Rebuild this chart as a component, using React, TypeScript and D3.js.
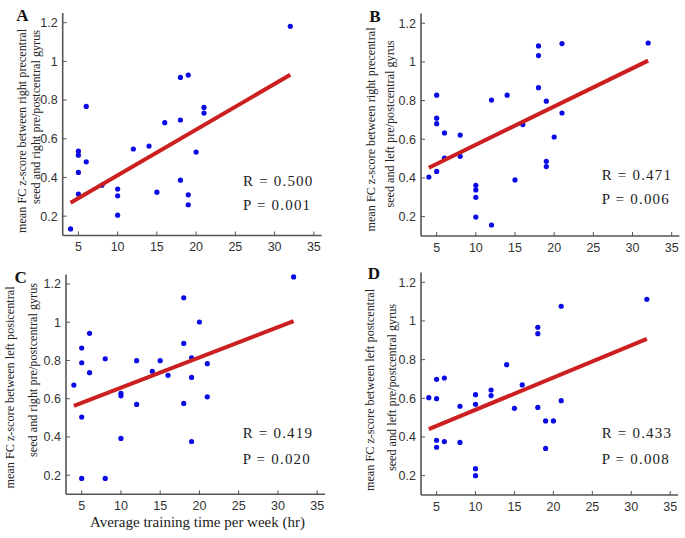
import React from "react";
import * as d3 from "d3";

// ---- data ----
const xTickValues = [5, 10, 15, 20, 25, 30, 35];
const yTickValues = [0.2, 0.4, 0.6, 0.8, 1.0, 1.2];
const yTickLabels = ["0.2", "0.4", "0.6", "0.8", "1", "1.2"];
const fitX = [4, 32];

const aHours = [4, 5, 5, 5, 5, 6, 6, 8, 10, 10, 10, 12, 14, 15, 16, 18, 18, 18, 19, 19, 19, 20, 21, 21, 32];
const aFC = [0.134, 0.536, 0.515, 0.426, 0.314, 0.767, 0.481, 0.36, 0.34, 0.305, 0.205, 0.547, 0.562, 0.324, 0.683, 0.917, 0.697, 0.386, 0.929, 0.31, 0.259, 0.531, 0.762, 0.733, 1.181];
const aFit = [0.269, 0.931];

const bHours = [4, 5, 5, 5, 5, 6, 6, 8, 8, 10, 10, 10, 10, 12, 12, 14, 15, 16, 18, 18, 18, 19, 19, 19, 20, 21, 21, 32];
const bFC = [0.405, 0.828, 0.709, 0.681, 0.434, 0.633, 0.503, 0.622, 0.512, 0.362, 0.338, 0.3, 0.198, 0.803, 0.157, 0.828, 0.39, 0.676, 1.083, 1.033, 0.867, 0.797, 0.486, 0.459, 0.612, 1.095, 0.736, 1.098];
const bFit = [0.453, 1.007];

const cHours = [4, 5, 5, 5, 5, 6, 6, 8, 8, 10, 10, 10, 12, 12, 14, 15, 16, 18, 18, 18, 19, 19, 19, 20, 21, 21, 32];
const cFC = [0.671, 0.865, 0.788, 0.504, 0.183, 0.942, 0.736, 0.809, 0.183, 0.628, 0.615, 0.392, 0.799, 0.57, 0.743, 0.799, 0.722, 1.128, 0.889, 0.575, 0.814, 0.711, 0.376, 1.001, 0.783, 0.61, 1.237];
const cFit = [0.563, 1.006];

const dHours = [4, 5, 5, 5, 5, 6, 6, 8, 8, 10, 10, 10, 10, 12, 12, 14, 15, 16, 18, 18, 18, 19, 19, 20, 21, 21, 32];
const dFC = [0.603, 0.698, 0.598, 0.383, 0.347, 0.705, 0.376, 0.559, 0.372, 0.619, 0.569, 0.236, 0.2, 0.643, 0.614, 0.774, 0.548, 0.669, 0.967, 0.934, 0.553, 0.483, 0.341, 0.483, 1.076, 0.588, 1.112];
const dFit = [0.441, 0.907];

const panelLetters = ["A", "B", "C", "D"];
const yLabelLine1 = [
  "mean FC z-score between right precentral",
  "mean FC z-score between right precentral",
  "mean FC z-score between left posicentral",
  "mean FC z-score between left postcentral",
];
const yLabelLine2 = [
  "seed and right pre/postcentral gyrus",
  "seed and left pre/postcentral gyrus",
  "seed and right pre/postcentral gyrus",
  "seed and left pre/postcentral gyrus",
];
const rTexts = ["R = 0.500", "R = 0.471", "R = 0.419", "R = 0.433"];
const pTexts = ["P = 0.001", "P = 0.006", "P = 0.020", "P = 0.008"];
const xAxisTitle = "Average training time per week (hr)";

const xDomain = [3, 36];
const yDomain = [0.1, 1.25];

type Geo = {
  x0: number; x1: number; yb: number; yt: number;
  letter: [number, number];
  l1: [number, number]; l2: [number, number];
  stat: [number, number, number];
};

const geos: Geo[] = [
  { x0: 62.7, x1: 321.7, yb: 235.5, yt: 13, letter: [22.5, 21], l1: [21.7, 131], l2: [36, 117], stat: [243, 186, 210] },
  { x0: 421, x1: 679.5, yb: 236, yt: 13.6, letter: [375, 22], l1: [370.7, 129.5], l2: [390, 124], stat: [601.7, 180, 204] },
  { x0: 66, x1: 325, yb: 494.3, yt: 274.4, letter: [20.7, 283], l1: [10, 387.5], l2: [33, 370], stat: [242.7, 438.3, 464] },
  { x0: 421, x1: 678, yb: 495, yt: 272.6, letter: [374, 279], l1: [369.3, 390], l2: [391.7, 387.5], stat: [601.7, 438.3, 464] },
];

const panels = [
  { hours: aHours, fc: aFC, fit: aFit },
  { hours: bHours, fc: bFC, fit: bFit },
  { hours: cHours, fc: cFC, fit: cFit },
  { hours: dHours, fc: dFC, fit: dFit },
];

const AXIS = "#555";
const TICKTXT = "#333";
const SERIF = "'Liberation Serif', 'DejaVu Serif', serif";
const SANS = "'Liberation Sans', Arial, sans-serif";

function Panel({ i }: { i: number }) {
  const g = geos[i];
  const p = panels[i];
  const x = d3.scaleLinear().domain(xDomain).range([g.x0, g.x1]);
  const y = d3.scaleLinear().domain(yDomain).range([g.yb, g.yt]);
  const line = d3.line<number>().x((_, k) => x(fitX[k])).y((v) => y(v));
  return (
    <g>
      <line x1={g.x0} x2={g.x0} y1={g.yt} y2={g.yb} stroke={AXIS} strokeWidth={1.6} />
      <line x1={g.x0} x2={g.x1} y1={g.yb} y2={g.yb} stroke={AXIS} strokeWidth={1.6} />
      {yTickValues.map((v, k) => (
        <g key={"y" + k}>
          <line x1={g.x0} x2={g.x0 + 4} y1={y(v)} y2={y(v)} stroke={AXIS} strokeWidth={1} />
          <text x={g.x0 - 5} y={y(v)} dy="0.35em" textAnchor="end" fontFamily={SANS} fontSize={12.5} fill={TICKTXT}>
            {yTickLabels[k]}
          </text>
        </g>
      ))}
      {xTickValues.map((v, k) => (
        <g key={"x" + k}>
          <line x1={x(v)} x2={x(v)} y1={g.yb} y2={g.yb - 4} stroke={AXIS} strokeWidth={1} />
          <text x={x(v)} y={g.yb + 15.5} textAnchor="middle" fontFamily={SANS} fontSize={12.5} fill={TICKTXT}>
            {v}
          </text>
        </g>
      ))}
      {p.hours.map((h, k) => (
        <circle key={"p" + k} cx={x(h)} cy={y(p.fc[k])} r={2.6} fill="#0a0ae6" />
      ))}
      <path d={line(p.fit) || ""} stroke="#cc2020" strokeWidth={4} fill="none" />
      <text x={g.letter[0]} y={g.letter[1]} textAnchor="middle" fontFamily={SERIF} fontSize={17} fontWeight="bold" fill="#111">
        {panelLetters[i]}
      </text>
      <text transform={`translate(${g.l1[0]},${g.l1[1]}) rotate(-90)`} dy="0.35em" textAnchor="middle" fontFamily={SERIF} fontSize={12.2} fill="#222">
        {yLabelLine1[i]}
      </text>
      <text transform={`translate(${g.l2[0]},${g.l2[1]}) rotate(-90)`} dy="0.35em" textAnchor="middle" fontFamily={SERIF} fontSize={12.2} fill="#222">
        {yLabelLine2[i]}
      </text>
      <text x={g.stat[0]} y={g.stat[1]} fontFamily={SERIF} fontSize={15} fill="#222" style={{ whiteSpace: "pre" }} letterSpacing={1.2}>
        {rTexts[i]}
      </text>
      <text x={g.stat[0]} y={g.stat[2]} fontFamily={SERIF} fontSize={15} fill="#222" style={{ whiteSpace: "pre" }} letterSpacing={1.2}>
        {pTexts[i]}
      </text>
    </g>
  );
}

export default function App() {
  return (
    <svg width={685} height={538} style={{ position: "absolute", left: 0, top: 0, background: "#fff" }}>
      <rect width={685} height={538} fill="#fff" />
      {[0, 1, 2, 3].map((i) => (
        <Panel key={i} i={i} />
      ))}
      <text x={197.5} y={526.5} textAnchor="middle" fontFamily={SERIF} fontSize={15} fill="#222">
        {xAxisTitle}
      </text>
    </svg>
  );
}
